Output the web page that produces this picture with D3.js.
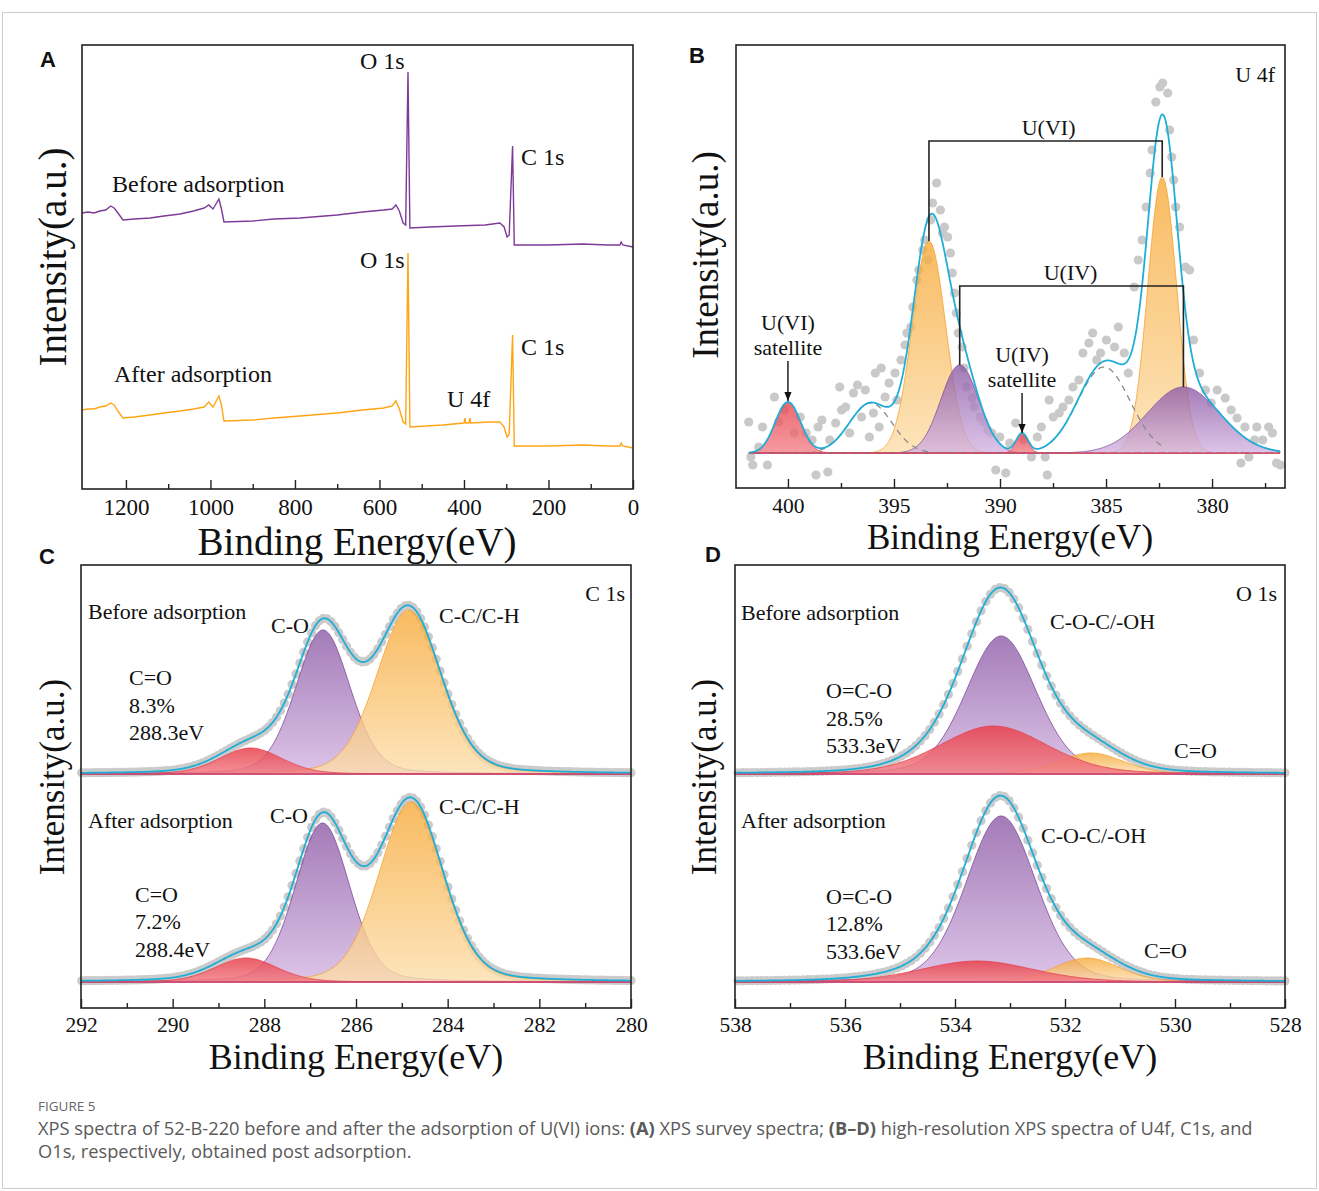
<!DOCTYPE html>
<meta charset="utf-8">
<style>
  body { margin: 0; background: #fff; }
  svg text { font-family: "Liberation Serif", "Times New Roman", serif; fill: #111; }
  .letter { font-family: "Liberation Sans", Arial, sans-serif; font-weight: bold; font-size: 22px; }
  .caption { font-family: "Open Sans", sans-serif; fill: #5a5a5a; }
</style>
<body>
<svg width="1319" height="1191"></svg>

<script src="https://d3js.org/d3.v7.min.js"></script>
<script>

// ---------- panel A: survey spectra  [binding energy (eV), intensity (a.u.)]
var surveyBefore = [
  [1304,276],[1290,277],[1275,276],[1262,278],[1248,279],[1236,283],[1228,281],[1219,276],[1207,269],
  [1180,270],[1143,271],[1110,273],[1072,275],[1040,278],[1015,281],[1004,284],[994,280],[980,290],
  [974,280],[968,267],[900,268],[850,270],[788,271],[700,274],[640,277],[590,279],[570,280],[561,284],
  [553,278],[544,266],[538,264],[532.5,417],[528,261],[480,262],[420,263],[350,264],[315,266],[305,262],
  [298,252],[293,254],[285,343],[281,244],[200,244],[120,245],[60,244],[31,244],[28,247],[24,244],[0,242]
];
var surveyAfter = [
  [1304,79],[1290,80],[1275,80],[1262,82],[1248,83],[1236,86],[1228,84],[1219,78],[1207,71],
  [1180,72],[1143,74],[1110,76],[1072,78],[1040,80],[1015,82],[1004,87],[994,82],[980,93],
  [974,84],[968,68],[900,69],[850,71],[788,73],[700,76],[640,79],[590,81],[570,83],[561,88],
  [553,80],[544,67],[538,65],[532.5,236],[528,62],[450,64],[400,66],[398,71],[396,66],[388,66],
  [386,71],[384,66],[340,67],[315,67],[305,62],[298,52],[293,55],[285,154],[281,43],[200,43],
  [120,44],[60,43],[31,43],[28,46],[24,43],[0,41]
];

// ---------- panel B: U 4f
var u4fDots = [
  [401.85,66],[401.75,31],[401.66,23],[401.38,41],[401.2,61],[400.97,23],[400.64,91],[400.45,66],[400.17,78],
  [399.7,55],[399.42,71],[399.14,55],[398.86,48],[398.68,13],[398.58,61],[398.4,68],[398.12,16],[398.03,48],
  [397.75,65],[397.56,101],[397.47,78],[397.28,81],[397.09,55],[396.91,95],[396.72,103],[396.53,71],[396.35,98],
  [396.16,51],[395.97,75],[395.88,115],[395.7,61],[395.6,120],[395.42,91],[395.23,105],[394.95,115],[394.86,88],
  [394.67,128],[394.48,143],[394.39,155],[394.2,161],[394.11,181],[393.92,208],[393.83,218],[393.64,238],
  [393.55,248],[393.4,228],[393.27,268],[393.18,285],[392.99,305],[392.81,278],[392.71,255],[392.62,261],
  [392.47,251],[392.34,235],[392.25,215],[392.15,195],[392.06,175],[391.97,155],[391.78,141],[391.69,120],
  [391.59,101],[391.31,90],[391.22,81],[390.94,71],[390.76,66],[390.57,58],[390.38,55],[390.2,18],[390.01,51],
  [389.73,15],[389.54,45],[389.26,65],[388.89,48],[388.52,31],[388.24,51],[388.05,61],[387.87,31],[387.77,13],
  [387.68,88],[387.49,71],[387.21,75],[387.03,81],[386.75,88],[386.56,101],[386.28,108],[386.09,135],
  [385.81,145],[385.63,155],[385.44,128],[385.26,135],[384.98,148],[384.6,141],[384.42,161],[384.14,135],
  [383.95,115],[383.67,201],[383.48,228],[383.3,248],[383.11,281],[382.92,315],[382.83,338],[382.65,386],
  [382.46,401],[382.33,405],[382.09,395],[382.0,358],[381.9,331],[381.81,308],[381.71,281],[381.53,261],
  [381.25,221],[381.06,218],[380.87,148],[380.59,115],[380.31,98],[380.04,85],[379.76,98],[379.38,90],
  [379.1,78],[378.82,70],[378.64,25],[378.45,61],[378.26,31],[377.99,48],[377.89,61],[377.61,48],
  [377.33,61],[377.15,55],[376.96,25],[376.77,23]
];
var u4fBase = 35;
var u4fCenter = [400.0, 396.1, 393.35, 391.9, 388.96, 385.1, 382.35, 381.35];
var u4fHeight = [51, 50, 212, 88, 19, 86, 276, 66];
var u4fFwhm   = [1.4, 2.35, 1.85, 2.1, 0.66, 2.9, 1.6, 4.0];
var u4fKind   = ["red", "shake", "orange", "purple", "red", "shake", "orange", "purple"];

// ---------- panel C: C 1s  (C=O, C-O, C-C/C-H)
var c1sKind = ["red", "purple", "orange"];
var c1sCenterBefore = [288.3, 286.72, 284.85];
var c1sHeightBefore = [26, 144, 164];
var c1sCenterAfter  = [288.4, 286.73, 284.8];
var c1sHeightAfter  = [24, 159, 180];
var c1sFwhm = [1.6, 1.4, 1.65];

// ---------- panel D: O 1s  (O=C-O, C-O-C/-OH, C=O)
var o1sKind = ["red", "purple", "orange"];
var o1sCenterBefore = [533.3, 533.16, 531.53];
var o1sHeightBefore = [48, 138, 21];
var o1sFwhmBefore   = [2.3, 1.5, 1.4];
var o1sCenterAfter  = [533.6, 533.16, 531.6];
var o1sHeightAfter  = [21, 166, 24];
var o1sFwhmAfter    = [2.4, 1.5, 1.4];

//=====================================================================
var svg = d3.select("svg");
svg.append("rect").attr("width", 1319).attr("height", 1191).attr("fill", "#fff");
svg.append("rect").attr("x", 2.5).attr("y", 12.5).attr("width", 1314).attr("height", 1176)
   .attr("fill", "none").attr("stroke", "#cdcdcd");

var defs = svg.append("defs");
function gradient(id, top, bottom) {
  var gr = defs.append("linearGradient").attr("id", id)
    .attr("x1", 0).attr("y1", 0).attr("x2", 0).attr("y2", 1);
  gr.append("stop").attr("offset", "0%").attr("stop-color", top);
  gr.append("stop").attr("offset", "100%").attr("stop-color", bottom);
}
gradient("gPurple", "#8A57A4", "#D3B3E1");
gradient("gOrange", "#F6A834", "#FDDDAA");
gradient("gRed", "#E8414C", "#F27E86");
var fillOf   = { purple: "url(#gPurple)", orange: "url(#gOrange)", red: "url(#gRed)" };
var strokeOf = { purple: "#7C4A95", orange: "#F2A230", red: "#E2404A" };
// red components sit on top of the others
var drawOrder = { purple: 0, orange: 1, red: 2 };

defs.append("marker").attr("id", "arrow").attr("viewBox", "0 0 10 10")
  .attr("refX", 10).attr("refY", 5).attr("markerWidth", 9).attr("markerHeight", 9)
  .attr("markerUnits", "userSpaceOnUse").attr("orient", "auto")
  .append("path").attr("d", "M0,1 L10,5 L0,9 Z").attr("fill", "#111");

// pseudo-Voigt line shape of one fitted component
function peak(e, c, h, w, eta) {
  var t = (e - c) / w;
  return h * ((1 - eta) * Math.exp(-4 * Math.LN2 * t * t) + eta / (1 + 4 * t * t));
}

function label(txt, x, y, size, anchor) {
  return svg.append("text").attr("x", x).attr("y", y).attr("font-size", size)
    .attr("text-anchor", anchor || "start").text(txt);
}

function frame(x, y, major, minor, tickFont, pad) {
  var y0 = y.range()[0];
  var minorAx = svg.append("g").attr("transform", "translate(0," + y0 + ")")
    .call(d3.axisBottom(x).tickValues(minor).tickSize(-5).tickFormat(""));
  minorAx.select(".domain").remove();
  var ax = svg.append("g").attr("transform", "translate(0," + y0 + ")")
    .call(d3.axisBottom(x).tickValues(major).tickSize(-9).tickPadding(pad).tickFormat(d3.format("d")));
  ax.select(".domain").remove();
  ax.selectAll("text").attr("font-size", tickFont)
    .attr("font-family", '"Liberation Serif", "Times New Roman", serif').attr("fill", "#111");
  svg.selectAll("g.tick line").attr("stroke", "#222").attr("stroke-width", 1.4);
  svg.append("rect").attr("x", x.range()[0]).attr("y", y.range()[1])
    .attr("width", x.range()[1] - x.range()[0]).attr("height", y.range()[0] - y.range()[1])
    .attr("fill", "none").attr("stroke", "#222").attr("stroke-width", 1.6);
}

function titles(cx, by, bSize, ix, iy, iSize) {
  label("Binding Energy(eV)", cx, by, bSize, "middle");
  svg.append("text").attr("transform", "translate(" + ix + "," + iy + ") rotate(-90)")
    .attr("text-anchor", "middle").attr("font-size", iSize).text("Intensity(a.u.)");
}

// fitted spectrum: dots, filled components, baseline, envelope
function drawFit(x, y, base, centers, heights, fwhms, kinds, eta, lo, hi) {
  var ev = d3.range(lo, hi + 1e-9, 0.02);
  var env = function(e) {
    return base + d3.sum(centers, function(c, i) { return peak(e, c, heights[i], fwhms[i], eta); });
  };
  var dotEv = d3.range(lo, hi + 1e-9, 0.085);
  svg.append("g").selectAll("circle").data(dotEv).join("circle")
    .attr("cx", function(d) { return x(d); }).attr("cy", function(d) { return y(env(d)); })
    .attr("r", 4.6).attr("fill", "#cbcbcb");
  var order = d3.range(centers.length).sort(function(a, b) { return drawOrder[kinds[a]] - drawOrder[kinds[b]]; });
  order.forEach(function(i) {
    var area = d3.area().x(function(d) { return x(d); }).y0(y(base))
      .y1(function(d) { return y(base + peak(d, centers[i], heights[i], fwhms[i], eta)); });
    svg.append("path").datum(ev).attr("d", area)
      .attr("fill", fillOf[kinds[i]]).attr("fill-opacity", kinds[i] == "red" ? 0.85 : 0.78)
      .attr("stroke", strokeOf[kinds[i]]).attr("stroke-width", 0.8);
  });
  svg.append("line").attr("x1", x(lo)).attr("x2", x(hi)).attr("y1", y(base)).attr("y2", y(base))
    .attr("stroke", "#C9457A").attr("stroke-width", 1.6);
  svg.append("path").datum(ev)
    .attr("d", d3.line().x(function(d) { return x(d); }).y(function(d) { return y(env(d)); }))
    .attr("fill", "none").attr("stroke", "#20AED7").attr("stroke-width", 1.8);
}

//==================== panel A ====================
var xA = d3.scaleLinear().domain([1304, 0]).range([82, 633]);
var yA = d3.scaleLinear().domain([0, 444]).range([489, 45]);
var surveyLine = d3.line().x(function(d) { return xA(d[0]); }).y(function(d) { return yA(d[1]); });
svg.append("path").datum(surveyBefore).attr("d", surveyLine)
  .attr("fill", "none").attr("stroke", "#7D3A96").attr("stroke-width", 1.4);
svg.append("path").datum(surveyAfter).attr("d", surveyLine)
  .attr("fill", "none").attr("stroke", "#FFA514").attr("stroke-width", 1.4);
frame(xA, yA, d3.range(0, 1201, 200), d3.range(100, 1300, 200), 23, 9.5);
titles(357, 555, 39, 66, 257, 39);
label("A", 48, 67, 22, "middle").attr("class", "letter");
label("O 1s", 360, 69, 24); label("C 1s", 521, 165, 24);
label("Before adsorption", 112, 192, 24);
label("O 1s", 360, 268, 24); label("C 1s", 521, 355, 24);
label("After adsorption", 114, 382, 24); label("U 4f", 447, 407, 24);

//==================== panel B ====================
var xB = d3.scaleLinear().domain([402.45, 376.56]).range([736, 1285]);
var yB = d3.scaleLinear().domain([0, 443]).range([488, 45]);
var evB = d3.range(376.8, 401.86, 0.02);
var envB = function(e) {
  return u4fBase + d3.sum(u4fCenter, function(c, i) { return peak(e, c, u4fHeight[i], u4fFwhm[i], 0); });
};
svg.append("g").selectAll("circle").data(u4fDots).join("circle")
  .attr("cx", function(d) { return xB(d[0]); }).attr("cy", function(d) { return yB(d[1]); })
  .attr("r", 4.6).attr("fill", "#c9c9c9");
u4fCenter.forEach(function(c, i) {
  if (u4fKind[i] == "shake") return;
  var area = d3.area().x(function(d) { return xB(d); }).y0(yB(u4fBase))
    .y1(function(d) { return yB(u4fBase + peak(d, c, u4fHeight[i], u4fFwhm[i], 0)); });
  svg.append("path").datum(evB).attr("d", area)
    .attr("fill", fillOf[u4fKind[i]]).attr("fill-opacity", 0.78)
    .attr("stroke", strokeOf[u4fKind[i]]).attr("stroke-width", 0.8);
});
u4fCenter.forEach(function(c, i) {
  if (u4fKind[i] != "shake") return;
  var part = evB.filter(function(d) { return Math.abs(d - c) < 2.7; });
  svg.append("path").datum(part)
    .attr("d", d3.line().x(function(d) { return xB(d); })
      .y(function(d) { return yB(u4fBase + peak(d, c, u4fHeight[i], u4fFwhm[i], 0)); }))
    .attr("fill", "none").attr("stroke", "#8a8a8a").attr("stroke-width", 1.3).attr("stroke-dasharray", "6,5");
});
svg.append("line").attr("x1", xB(401.85)).attr("x2", xB(376.8)).attr("y1", yB(u4fBase)).attr("y2", yB(u4fBase))
  .attr("stroke", "#D9506E").attr("stroke-width", 1.5).attr("stroke-dasharray", "9,3");
svg.append("path").datum(evB)
  .attr("d", d3.line().x(function(d) { return xB(d); }).y(function(d) { return yB(envB(d)); }))
  .attr("fill", "none").attr("stroke", "#20AED7").attr("stroke-width", 1.8);

// U(VI) and U(IV) spin-orbit brackets
function bracket(i, j, yTop, txt, dx) {
  var x1 = xB(u4fCenter[i]), x2 = xB(u4fCenter[j]);
  svg.append("path")
    .attr("d", "M" + x1 + "," + yB(u4fBase + u4fHeight[i]) + "V" + yTop + "H" + x2 + "V" + yB(u4fBase + u4fHeight[j]))
    .attr("fill", "none").attr("stroke", "#222").attr("stroke-width", 1.6);
  label(txt, (x1 + x2) / 2 + dx, yTop - 6, 22, "middle");
}
bracket(2, 6, 141, "U(VI)", 3);
bracket(3, 7, 286, "U(IV)", -1);
function satellite(i, txt, yText) {
  var xs = xB(u4fCenter[i]), tip = yB(u4fBase + u4fHeight[i]) - 1;
  label(txt, xs, yText, 22, "middle");
  label("satellite", xs, yText + 25, 22, "middle");
  svg.append("line").attr("x1", xs).attr("x2", xs).attr("y1", yText + 31).attr("y2", tip)
    .attr("stroke", "#111").attr("stroke-width", 1.4).attr("marker-end", "url(#arrow)");
}
satellite(0, "U(VI)", 330);
satellite(4, "U(IV)", 362);
frame(xB, yB, d3.range(380, 401, 5), [377.5, 382.5, 387.5, 392.5, 397.5], 21.5, 9.5);
titles(1010, 549, 35, 718, 255, 37);
label("B", 697, 63, 22, "middle").attr("class", "letter");
label("U 4f", 1275, 82, 22, "end");

//==================== panel C ====================
var xC = d3.scaleLinear().domain([292, 280]).range([81, 631]);
var yC = d3.scaleLinear().domain([0, 443]).range([1008, 565]);
drawFit(xC, yC, 234, c1sCenterBefore, c1sHeightBefore, c1sFwhm, c1sKind, 0.2, 280, 292);
drawFit(xC, yC, 26, c1sCenterAfter, c1sHeightAfter, c1sFwhm, c1sKind, 0.2, 280, 292);
frame(xC, yC, d3.range(280, 293, 2), d3.range(281, 292, 2), 21.5, 8.7);
titles(356, 1069, 36, 64, 777, 35);
label("C", 47, 564, 22, "middle").attr("class", "letter");
label("C 1s", 625, 601, 22, "end");
label("Before adsorption", 88, 619, 22);
label("C-O", 271, 633, 22); label("C-C/C-H", 439, 623, 22);
label("C=O", 129, 685, 22); label("8.3%", 129, 713, 22); label("288.3eV", 129, 740, 22);
label("After adsorption", 88, 828, 22);
label("C-O", 270, 823, 22); label("C-C/C-H", 439, 814, 22);
label("C=O", 135, 902, 22); label("7.2%", 135, 929, 22); label("288.4eV", 135, 957, 22);

//==================== panel D ====================
var xD = d3.scaleLinear().domain([538, 528]).range([735, 1285]);
var yD = d3.scaleLinear().domain([0, 443]).range([1008, 565]);
drawFit(xD, yD, 234, o1sCenterBefore, o1sHeightBefore, o1sFwhmBefore, o1sKind, 0.2, 528, 538);
drawFit(xD, yD, 26, o1sCenterAfter, o1sHeightAfter, o1sFwhmAfter, o1sKind, 0.2, 528, 538);
frame(xD, yD, d3.range(528, 539, 2), d3.range(529, 538, 2), 21.5, 8.7);
titles(1010, 1069, 36, 716, 777, 35);
label("D", 713, 562, 22, "middle").attr("class", "letter");
label("O 1s", 1277, 601, 22, "end");
label("Before adsorption", 741, 620, 22);
label("C-O-C/-OH", 1050, 629, 22);
label("O=C-O", 826, 698, 22); label("28.5%", 826, 726, 22); label("533.3eV", 826, 753, 22);
label("C=O", 1174, 758, 22);
label("After adsorption", 741, 828, 22);
label("C-O-C/-OH", 1041, 843, 22);
label("O=C-O", 826, 904, 22); label("12.8%", 826, 931, 22); label("533.6eV", 826, 959, 22);
label("C=O", 1144, 958, 22);

//==================== caption ====================
svg.append("text").attr("class", "caption").attr("x", 38).attr("y", 1111)
  .attr("font-size", 13.5).style("fill", "#666").text("FIGURE 5");
var cap1 = svg.append("text").attr("class", "caption").attr("x", 38).attr("y", 1135).attr("font-size", 16);
cap1.append("tspan").text("XPS spectra of 52-B-220 before and after the adsorption of U(VI) ions: ");
cap1.append("tspan").attr("font-weight", "bold").text("(A)");
cap1.append("tspan").text(" XPS survey spectra; ");
cap1.append("tspan").attr("font-weight", "bold").text("(B\u2013D)");
cap1.append("tspan").text(" high-resolution XPS spectra of U4f, C1s, and");
var cap2 = svg.append("text").attr("class", "caption").attr("x", 38).attr("y", 1158).attr("font-size", 16)
  .text("O1s, respectively, obtained post adsorption.");
// fit the caption width to the reference line length
var capSize = 16 * 1215 / cap1.node().getComputedTextLength();
cap1.attr("font-size", capSize);
cap2.attr("font-size", capSize);
svg.selectAll(".caption").style("font-family", '"Open Sans", sans-serif');
</script>
</body>
